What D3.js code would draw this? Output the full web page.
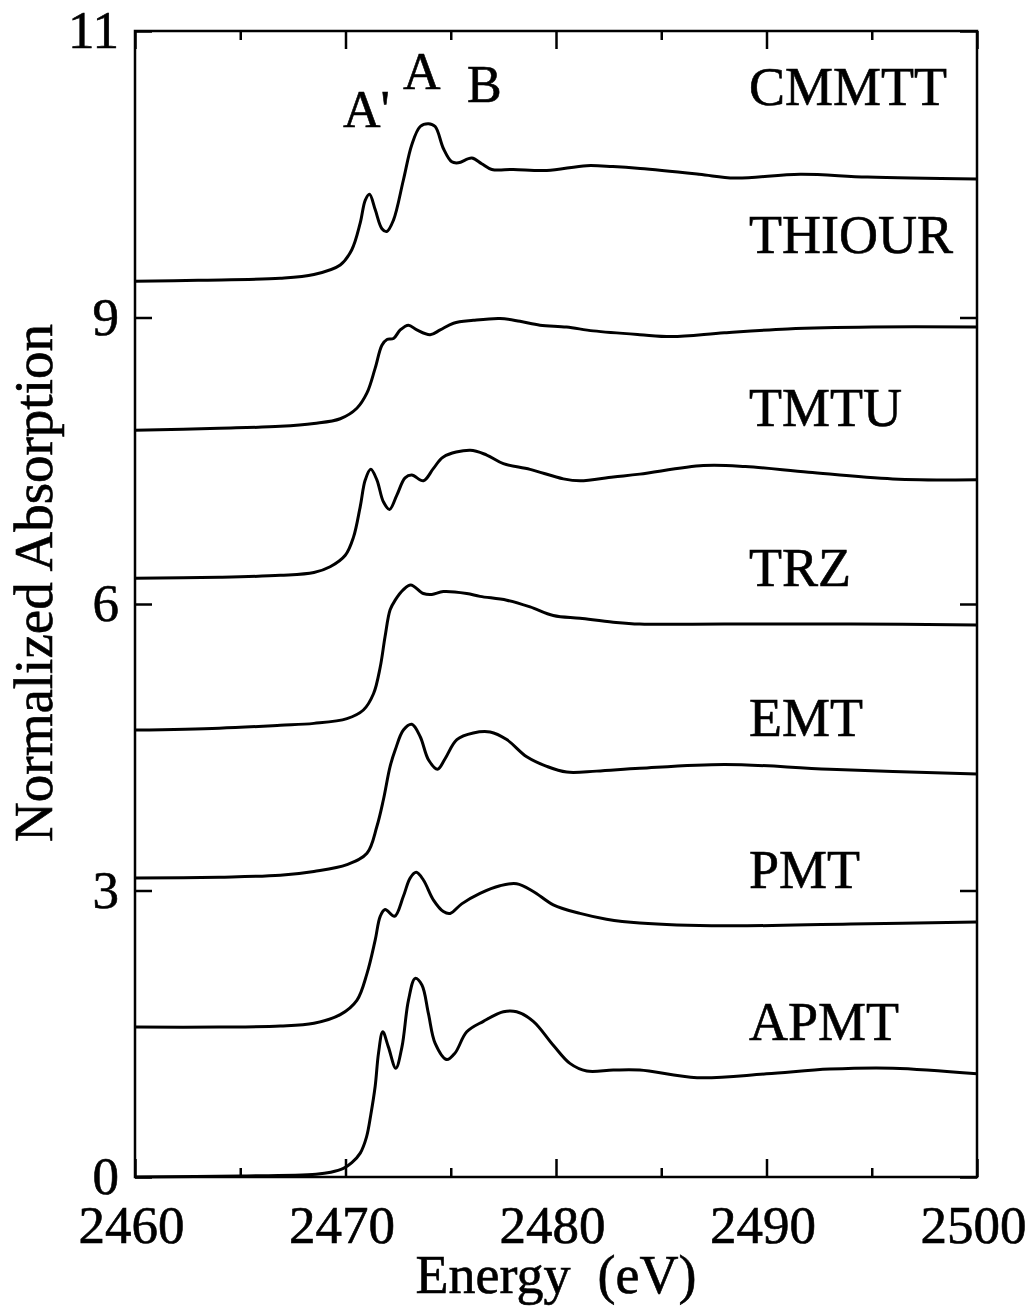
<!DOCTYPE html>
<html>
<head>
<meta charset="utf-8">
<script src="https://d3js.org/d3.v7.min.js"></script>
<style>
  body { margin: 0; background: #fff; }
  text { font-family: "Liberation Serif", "Times New Roman", serif; fill: #000; stroke: #000; stroke-width: 0.6px; }
</style>
</head>
<body>
<div id="chart"></div>
<script>
// spectra: [energy eV, normalized absorption (offset)]
const cmmtt = [[2460, 9.38], [2463, 9.39], [2466.9, 9.41], [2468.5, 9.45], [2469.75, 9.55], [2470.3, 9.71], [2470.7, 9.99], [2470.94, 10.23], [2471.14, 10.29], [2471.41, 10.13], [2471.73, 9.93], [2471.96, 9.90], [2472.28, 10.02], [2472.75, 10.44], [2473.15, 10.81], [2473.55, 11.0], [2473.94, 11.03], [2474.26, 11.0], [2474.65, 10.77], [2475.05, 10.63], [2475.36, 10.62], [2476.0, 10.67], [2476.47, 10.61], [2476.95, 10.55], [2477.97, 10.55], [2479.56, 10.54], [2481.46, 10.59], [2482.7, 10.58], [2484, 10.56], [2486.8, 10.50], [2488.5, 10.46], [2491.6, 10.50], [2494.8, 10.47], [2500, 10.45]];
const thiour = [[2460, 7.82], [2464, 7.84], [2466.9, 7.86], [2468.5, 7.89], [2469.75, 7.94], [2470.54, 8.05], [2471.02, 8.21], [2471.41, 8.47], [2471.73, 8.71], [2471.97, 8.77], [2472.28, 8.78], [2472.6, 8.87], [2472.99, 8.92], [2473.39, 8.87], [2474.02, 8.82], [2474.5, 8.87], [2475.13, 8.94], [2476.07, 8.97], [2477.34, 8.99], [2478.29, 8.96], [2479.24, 8.92], [2480.5, 8.90], [2481.77, 8.86], [2483.98, 8.82], [2485.5, 8.80], [2488, 8.84], [2491, 8.88], [2495, 8.90], [2500, 8.90]];
const tmtu = [[2460, 6.27], [2464, 6.28], [2466.9, 6.30], [2468.5, 6.33], [2469.27, 6.39], [2469.99, 6.51], [2470.38, 6.70], [2470.7, 7.02], [2470.94, 7.30], [2471.2, 7.41], [2471.49, 7.30], [2471.8, 7.07], [2472.09, 6.99], [2472.44, 7.14], [2472.83, 7.32], [2473.15, 7.35], [2473.7, 7.29], [2474.18, 7.42], [2474.65, 7.54], [2475.92, 7.61], [2476.71, 7.56], [2477.5, 7.47], [2478.77, 7.41], [2480.35, 7.31], [2481.14, 7.29], [2482.72, 7.33], [2483.98, 7.36], [2487, 7.45], [2489, 7.44], [2492, 7.38], [2496, 7.31], [2500, 7.30]];
const trz = [[2460, 4.68], [2464, 4.70], [2466.9, 4.73], [2468.5, 4.75], [2470.07, 4.80], [2470.85, 4.89], [2471.33, 5.06], [2471.65, 5.34], [2471.88, 5.66], [2472.12, 5.94], [2472.36, 6.04], [2472.75, 6.15], [2473.1, 6.20], [2473.7, 6.11], [2474.1, 6.10], [2474.65, 6.13], [2475.76, 6.11], [2476.39, 6.08], [2477.66, 6.04], [2478.77, 5.97], [2479.87, 5.88], [2481.14, 5.85], [2482.72, 5.81], [2483.98, 5.79], [2488, 5.79], [2494, 5.79], [2500, 5.78]];
const emt = [[2460, 3.13], [2464, 3.14], [2466.9, 3.16], [2468.5, 3.20], [2470.07, 3.27], [2471.02, 3.39], [2471.49, 3.67], [2471.8, 3.95], [2472.12, 4.30], [2472.36, 4.47], [2472.75, 4.68], [2473.15, 4.74], [2473.55, 4.61], [2473.94, 4.37], [2474.37, 4.27], [2474.73, 4.38], [2475.29, 4.58], [2476.07, 4.65], [2476.87, 4.66], [2477.66, 4.58], [2478.61, 4.40], [2479.56, 4.30], [2480.51, 4.24], [2481.93, 4.25], [2483.98, 4.28], [2488, 4.32], [2493, 4.27], [2500, 4.22]];
const pmt = [[2460, 1.57], [2464, 1.57], [2466.9, 1.58], [2468.5, 1.61], [2469.75, 1.70], [2470.54, 1.85], [2471.02, 2.13], [2471.41, 2.48], [2471.65, 2.73], [2471.88, 2.80], [2472.33, 2.73], [2472.75, 2.94], [2473.07, 3.13], [2473.36, 3.19], [2473.7, 3.11], [2474.18, 2.90], [2474.65, 2.78], [2474.97, 2.76], [2475.52, 2.86], [2476.39, 2.97], [2477.34, 3.05], [2478.13, 3.07], [2478.92, 2.99], [2479.87, 2.85], [2481.14, 2.76], [2482.4, 2.70], [2483.98, 2.66], [2488, 2.63], [2494, 2.65], [2500, 2.67]];
const apmt = [[2460, 0.0], [2465, 0.01], [2468.6, 0.03], [2469.3, 0.05], [2469.9, 0.09], [2470.3, 0.15], [2470.7, 0.25], [2471.0, 0.42], [2471.2, 0.65], [2471.41, 0.95], [2471.57, 1.30], [2471.77, 1.52], [2472.04, 1.36], [2472.39, 1.14], [2472.68, 1.36], [2472.99, 1.85], [2473.31, 2.08], [2473.63, 2.01], [2473.94, 1.71], [2474.26, 1.40], [2474.81, 1.23], [2475.21, 1.30], [2475.76, 1.52], [2476.55, 1.63], [2477.5, 1.73], [2478.13, 1.73], [2478.92, 1.63], [2479.87, 1.38], [2480.66, 1.19], [2481.46, 1.11], [2482.72, 1.12], [2483.98, 1.12], [2486.7, 1.04], [2490, 1.08], [2493, 1.13], [2496, 1.14], [2500, 1.08]];

const seriesNames = ["CMMTT", "THIOUR", "TMTU", "TRZ", "EMT", "PMT", "APMT"];
const seriesData = [cmmtt, thiour, tmtu, trz, emt, pmt, apmt];

const peakLabels = ["A'", "A", "B"];

const xMajorTicks = [2460, 2470, 2480, 2490, 2500];
const xMinorTicks = [2465, 2475, 2485, 2495];
const yTickValues = [0, 3, 6, 9, 12];
const yTickLabels = ["0", "3", "6", "9", "11"];

// ---- layout ----
const W = 1034, H = 1307;
const margins = { l: 135, t: 31, r: 57, b: 130 };
const chartWidth = W - margins.l - margins.r,
      chartHeight = H - margins.t - margins.b;

const svg = d3.select("#chart").append("svg")
    .attr("width", W)
    .attr("height", H);

svg.append("rect").attr("width", W).attr("height", H).attr("fill", "#fff");

const g = svg.append("g")
    .attr("transform", `translate(${margins.l},${margins.t})`);

const x = d3.scaleLinear().domain([2460, 2500]).range([0, chartWidth]);
const y = d3.scaleLinear().domain([0, 12]).range([chartHeight, 0]);

const styleAxis = (sel) => {
  sel.select(".domain").remove();
  sel.selectAll(".tick line").attr("stroke", "#000").attr("stroke-width", 2.5);
  sel.selectAll("text").attr("font-size", 53).attr("font-family", "Liberation Serif, serif").attr("fill", "#000");
};

// bottom axis: major ticks with labels, minor ticks without
g.append("g")
    .attr("transform", `translate(0,${chartHeight})`)
    .call(d3.axisBottom(x).tickValues(xMajorTicks).tickFormat(d3.format("d"))
      .tickSizeInner(-18).tickSizeOuter(0).tickPadding(28))
    .call(styleAxis)
    .selectAll("text").attr("dx", -4);

g.append("g")
    .attr("transform", `translate(0,${chartHeight})`)
    .call(d3.axisBottom(x).tickValues(xMinorTicks).tickFormat("")
      .tickSizeInner(-9).tickSizeOuter(0))
    .call(styleAxis);

// top axis ticks
g.append("g")
    .call(d3.axisTop(x).tickValues(xMajorTicks).tickFormat("")
      .tickSizeInner(-18).tickSizeOuter(0))
    .call(styleAxis);
g.append("g")
    .call(d3.axisTop(x).tickValues(xMinorTicks).tickFormat("")
      .tickSizeInner(-9).tickSizeOuter(0))
    .call(styleAxis);

// left axis with labels
g.append("g")
    .call(d3.axisLeft(y).tickValues(yTickValues)
      .tickFormat((d, i) => yTickLabels[i])
      .tickSizeInner(-17).tickSizeOuter(0).tickPadding(16))
    .call(styleAxis);

// right axis ticks
g.append("g")
    .attr("transform", `translate(${chartWidth},0)`)
    .call(d3.axisRight(y).tickValues(yTickValues).tickFormat("")
      .tickSizeInner(-17).tickSizeOuter(0))
    .call(styleAxis);

// frame
g.append("rect")
    .attr("width", chartWidth)
    .attr("height", chartHeight)
    .attr("fill", "none")
    .attr("stroke", "#000")
    .attr("stroke-width", 2.5);

// spectra
const line = d3.line()
    .x(d => x(d[0]))
    .y(d => y(d[1]))
    .curve(d3.curveCatmullRom.alpha(0.5));

g.selectAll(".spectrum")
    .data(seriesData)
    .enter().append("path")
    .attr("class", "spectrum")
    .attr("d", line)
    .attr("fill", "none")
    .attr("stroke", "#000")
    .attr("stroke-width", 3)
    .attr("stroke-linejoin", "round");

// series names (page coords)
const nameBaselines = [105, 253, 426, 586, 736, 888, 1040];
svg.selectAll(".name")
    .data(seriesNames)
    .enter().append("text")
    .attr("class", "name")
    .attr("x", 749)
    .attr("y", (d, i) => nameBaselines[i])
    .attr("font-size", 54)
    .text(d => d);

// peak markers A', A, B
const peakPos = [[343, 127], [403, 89], [467, 102]];
svg.selectAll(".peak")
    .data(peakLabels)
    .enter().append("text")
    .attr("class", "peak")
    .attr("x", (d, i) => peakPos[i][0])
    .attr("y", (d, i) => peakPos[i][1])
    .attr("font-size", 52)
    .text(d => d);

// axis titles
svg.append("text")
    .attr("x", margins.l + chartWidth / 2)
    .attr("y", 1293)
    .attr("text-anchor", "middle")
    .attr("font-size", 54)
    .attr("xml:space", "preserve")
    .style("white-space", "pre")
    .text("Energy  (eV)");

svg.append("text")
    .attr("transform", "rotate(-90)")
    .attr("x", -583)
    .attr("y", 52)
    .attr("text-anchor", "middle")
    .attr("font-size", 55)
    .text("Normalized Absorption");
</script>
</body>
</html>
